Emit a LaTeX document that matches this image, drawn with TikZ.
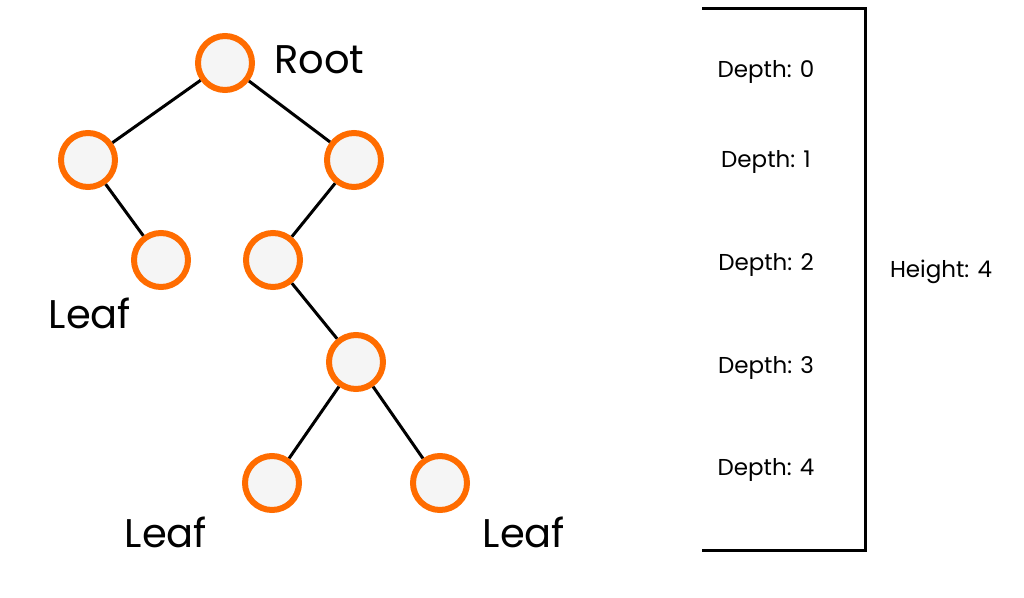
\documentclass[tikz,border=0pt]{standalone}
\usepackage{fontspec}
\setmainfont{Poppins}
\begin{document}
\begin{tikzpicture}[x=1pt,y=-1pt,
  tn/.style={circle,draw=orange!85!red,line width=6pt,fill=gray!8,minimum size=54pt,inner sep=0pt},
  edge/.style={line width=3pt,black},
  big/.style={font=\fontsize{40}{46}\selectfont,inner sep=0pt},
  dep/.style={font=\fontsize{23}{26}\selectfont,inner sep=0pt}]
\useasboundingbox (0,0) rectangle (1024,597);
\node[tn] (r) at (225,63) {};
\node[tn] (a) at (88,160) {};
\node[tn] (b) at (354,160) {};
\node[tn] (c) at (161,260) {};
\node[tn] (d) at (273,260) {};
\node[tn] (e) at (356,362) {};
\node[tn] (f) at (272,483) {};
\node[tn] (g) at (440,483) {};
\draw[edge] (r) -- (a); \draw[edge] (r) -- (b);
\draw[edge] (a) -- (c); \draw[edge] (b) -- (d);
\draw[edge] (d) -- (e); \draw[edge] (e) -- (f); \draw[edge] (e) -- (g);
\node[big,anchor=west] (tr) at (274,60) {Root};
\node[big] (l1) at (90,313) {Leaf};
\node[big] (l2) at (166,532) {Leaf};
\node[big] (l3) at (524,532) {Leaf};
\coordinate (t0) at (702,8); \coordinate (t1) at (865,8);
\coordinate (b0) at (702,550); \coordinate (b1) at (865,550);
\draw[line width=3pt] (t0) -- (t1) -- (b1) -- (b0);
\node[dep] (d0) at (766,72) {Depth: 0};
\node[dep] (d1) at (766,162) {Depth: 1};
\node[dep] (d2) at (766,265) {Depth: 2};
\node[dep] (d3) at (766,368) {Depth: 3};
\node[dep] (d4) at (766,470) {Depth: 4};
\node[dep] (h) at (941,272) {Height: 4};
\end{tikzpicture}
\end{document}
